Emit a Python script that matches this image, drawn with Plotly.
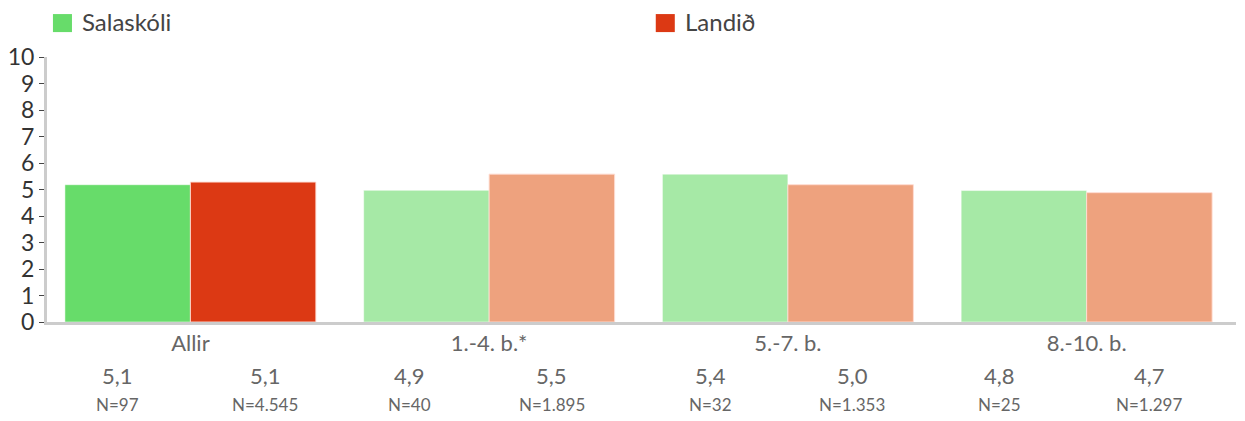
import plotly.graph_objects as go

categories = ["Allir", "1.-4. b.*", "5.-7. b.", "8.-10. b."]
sal_values = [5.18, 4.97, 5.58, 4.96]
land_values = [5.28, 5.58, 5.18, 4.88]
sal_labels = ["5,1", "4,9", "5,4", "4,8"]
land_labels = ["5,1", "5,5", "5,0", "4,7"]
sal_n = ["N=97", "N=40", "N=32", "N=25"]
land_n = ["N=4.545", "N=1.895", "N=1.353", "N=1.297"]
y_ticks = list(range(0, 11))
series_names = ["Salaskóli", "Landið"]

sal_colors = ["#67DC6A", "#A6E9A6", "#A6E9A6", "#A6E9A6"]
land_colors = ["#DC3914", "#EEA27E", "#EEA27E", "#EEA27E"]

FONT = "Lato"

fig = go.Figure()
fig.add_trace(go.Bar(
    name=series_names[0], x=categories, y=sal_values, showlegend=False,
    marker=dict(color=sal_colors, line=dict(color="rgba(255,255,255,0.5)", width=1)),
))
fig.add_trace(go.Bar(
    name=series_names[1], x=categories, y=land_values, showlegend=False,
    marker=dict(color=land_colors, line=dict(color="rgba(255,220,210,0.9)", width=1)),
))

# horizontal placement of the summary table under each group (category units)
sal_off = [-0.245, -0.265, -0.26, -0.29]
land_off = [0.25, 0.21, 0.215, 0.21]

annotations = []
for i in range(len(categories)):
    for off, val, n in ((sal_off[i], sal_labels[i], sal_n[i]),
                        (land_off[i], land_labels[i], land_n[i])):
        annotations.append(dict(x=i + off, y=-0.203, xref="x", yref="paper",
                                text=val, showarrow=False, yanchor="middle",
                                font=dict(family=FONT, size=22, color="#666666")))
        annotations.append(dict(x=i + off, y=-0.31, xref="x", yref="paper",
                                text=n, showarrow=False, yanchor="middle",
                                font=dict(family=FONT, size=17, color="#666666")))

# custom legend (larger swatches like the reference)
shapes = []
legend_x = [0.005, 0.512]
for name, color, lx in zip(series_names, [sal_colors[0], land_colors[0]], legend_x):
    shapes.append(dict(type="rect", xref="paper", yref="paper",
                       x0=lx, x1=lx + 0.016, y0=1.094, y1=1.162,
                       fillcolor=color, line=dict(width=0)))
    annotations.append(dict(x=lx + 0.023, y=1.134, xref="paper", yref="paper",
                            text=name, showarrow=False, xanchor="left", yanchor="middle",
                            font=dict(family=FONT, size=24, color="#444444")))

# page body adds an 8px margin; compensate so the figure aligns with the window
fig.update_layout(
    width=1237, height=413,
    margin=dict(l=39, r=9, t=49, b=99, autoexpand=False),
    paper_bgcolor="white", plot_bgcolor="white",
    barmode="group", bargap=0.16, bargroupgap=0,
    font=dict(family=FONT, color="#444444"),
    showlegend=False,
    xaxis=dict(range=[-0.48, 3.5], showline=True, linecolor="#cccccc", linewidth=3,
               ticks="", showgrid=False, zeroline=False,
               tickfont=dict(family=FONT, size=22, color="#666666")),
    yaxis=dict(range=[0, 10], tickvals=y_ticks, showline=True, linecolor="#cccccc",
               linewidth=3, ticks="outside", ticklen=5, tickwidth=1, tickcolor="#444444",
               showgrid=False, zeroline=False,
               tickfont=dict(family=FONT, size=23, color="#333333")),
    annotations=annotations,
    shapes=shapes,
)

fig.write_html("out.html")
